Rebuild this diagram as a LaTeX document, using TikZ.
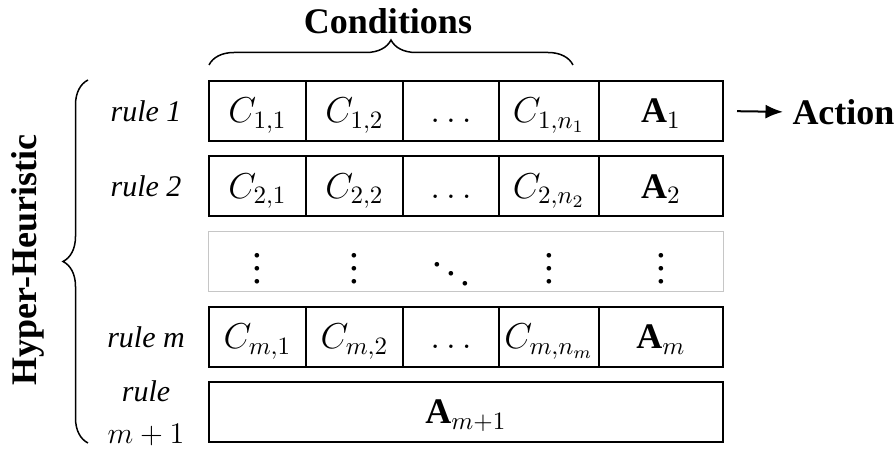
\documentclass[tikz,border=0pt,12pt]{standalone}
\usepackage{fontspec}
\setmainfont{Liberation Serif}
\usetikzlibrary{positioning,arrows.meta,decorations.pathreplacing}

\tikzset{
  cell/.style={draw, line width=0.8pt, inner sep=0pt, outer sep=0pt,
    minimum height=24pt, text height=9.6pt, text depth=0pt, font=\large},
  rulelab/.style={font=\itshape, inner sep=0pt},
  boldlab/.style={font=\fontsize{14.4}{17}\selectfont\bfseries, inner sep=0pt},
  bracket/.style={decorate, line width=0.6pt},
  vdot/.style={scale=1.3, inner sep=0pt},
}

\begin{document}
\begin{tikzpicture}[x=0.4pt, y=-0.4pt]
  \def\colA{38.8pt}
  \def\colB{38.4pt}
  \def\colC{40pt}
  \def\colD{49.6pt}
  \useasboundingbox (0,0) rectangle (895,451);
  % rule 1
  \node[cell, minimum width=\colA] (c11) at (257.5,111) {$C_{1,1}$};
  \node[cell, minimum width=\colA, right=0pt of c11] (c12) {$C_{1,2}$};
  \node[cell, minimum width=\colB, right=0pt of c12] (c1d) {$\ldots$};
  \node[cell, minimum width=\colC, right=0pt of c1d] (c1n) {$C_{1,n_1}$};
  \node[cell, minimum width=\colD, right=0pt of c1n] (a1) {$\mathbf{A}_1$};
  % rule 2
  \node[cell, minimum width=\colA] (c21) at (257.5,186.5) {$C_{2,1}$};
  \node[cell, minimum width=\colA, right=0pt of c21] (c22) {$C_{2,2}$};
  \node[cell, minimum width=\colB, right=0pt of c22] (c2d) {$\ldots$};
  \node[cell, minimum width=\colC, right=0pt of c2d] (c2n) {$C_{2,n_2}$};
  \node[cell, minimum width=\colD, right=0pt of c2n] (a2) {$\mathbf{A}_2$};
  % dots
  \node[draw=gray!45, line width=0.4pt, minimum width=205.6pt,
    minimum height=24pt, inner sep=0pt] (dotsrow) at (466,262) {};
  \node[vdot] (v1) at (257.5,259) {$\vdots$};
  \node[vdot] (v2) at (354.5,259) {$\vdots$};
  \node[vdot] (dd) at (451,264) {$\ddots$};
  \node[vdot] (v4) at (549,259) {$\vdots$};
  \node[vdot] (v5) at (661,259) {$\vdots$};
  % rule m
  \node[cell, minimum width=\colA] (cm1) at (257.5,337) {$C_{m,1}$};
  \node[cell, minimum width=\colA, right=0pt of cm1] (cm2) {$C_{m,2}$};
  \node[cell, minimum width=\colB, right=0pt of cm2] (cmd) {$\ldots$};
  \node[cell, minimum width=\colC, right=0pt of cmd] (cmn) {$C_{m,n_m}$};
  \node[cell, minimum width=\colD, right=0pt of cmn] (am) {$\mathbf{A}_m$};
  % rule m+1
  \node[cell, minimum width=205.6pt] (am1) at (466,412) {$\mathbf{A}_{m+1}$};
  % labels
  \node[rulelab] (r1) at (146,111) {rule 1};
  \node[rulelab] (r2) at (146,186.5) {rule 2};
  \node[rulelab] (rm) at (146,337) {rule m};
  \node[rulelab, anchor=base] (rm1) at (146,402) {rule};
  \node[inner sep=0pt, anchor=base] (rm1b) at (146,444) {$m+1$};
  \node[boldlab] (cond) at (388,21) {Conditions};
  \node[boldlab, rotate=90] (hh) at (28,260) {Hyper-Heuristic};
  \node[boldlab, anchor=west] (act) at (792,112) {Action};
  \draw[line width=0.8pt, -{Latex[length=7pt,width=5.6pt]},
    shorten <=5.6pt, shorten >=3.6pt] (a1.east) -- (act.west);
  % braces
  \draw[bracket, decoration={brace, amplitude=10pt}] (209,65) -- (573,65);
  \draw[bracket, decoration={brace, amplitude=10pt}] (88,443) -- (88,80);
\end{tikzpicture}
\end{document}
